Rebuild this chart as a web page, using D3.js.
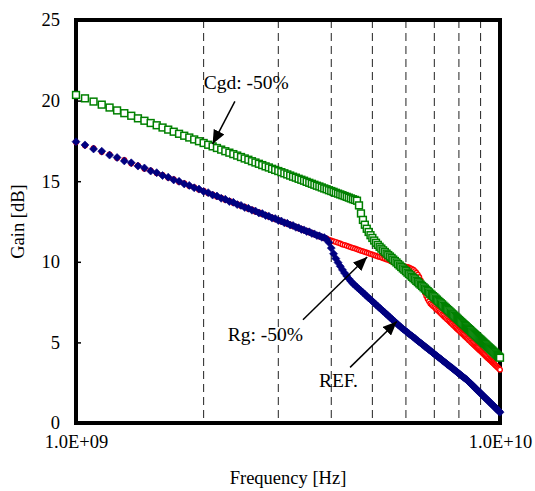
<!DOCTYPE html>
<html>
<head>
<meta charset="utf-8">
<script src="https://cdn.jsdelivr.net/npm/d3@7"></script>
<style>
  body { margin: 0; background: #fff; }
</style>
</head>
<body>
<div id="chart"></div>
<script>
// frequency sweep, 50 MHz steps from 1 GHz to 10 GHz
let freqGHz = d3.range(100, 1001, 5).map(d => d / 100)

let refGain = [17.45,17.25,17.00,16.86,16.62,16.47,16.26,16.14,15.94,15.82,15.63,15.53,15.35,15.25,15.08,14.99,14.83,14.74,14.59,14.51,
  14.36,14.29,14.14,14.08,13.94,13.88,13.74,13.69,13.55,13.50,13.37,13.32,13.20,13.15,13.03,12.99,12.87,12.83,12.71,12.68,
  12.56,12.53,12.42,12.39,12.28,12.25,12.14,12.11,12.01,11.98,11.88,11.86,11.76,11.73,11.63,11.61,11.52,11.50,11.40,
  11.20,10.85,10.50,10.20,9.95,9.72,9.50,9.30,9.12,8.95,8.80,
  8.65,8.54,8.42,8.31,8.20,8.09,7.98,7.87,7.76,7.66,7.55,7.45,7.34,7.24,7.14,7.04,6.94,6.85,6.75,6.65,6.56,6.46,6.37,6.28,6.19,6.09,6.01,
  5.92,5.84,5.77,5.69,5.61,5.54,5.46,5.39,5.32,5.25,5.17,5.10,5.03,4.96,4.89,4.82,4.75,4.68,4.62,4.55,4.48,4.42,4.35,4.28,4.22,
  4.15,4.09,4.03,3.97,3.90,3.84,3.78,3.72,3.65,3.60,3.54,3.47,3.42,3.36,3.30,3.24,3.18,3.12,3.07,3.01,2.95,2.90,2.84,2.79,2.73,2.68,
  2.61,2.55,2.48,2.42,2.35,2.29,2.22,2.16,2.09,2.03,1.97,1.91,1.85,1.78,1.72,1.66,1.60,1.54,1.48,1.42,1.36,1.30,1.24,1.18,1.12,
  1.07,1.01,0.95,0.89,0.84,0.78,0.72,0.67]

let rgGain = [17.42,17.21,17.05,16.81,16.66,16.44,16.31,16.10,15.98,15.78,15.67,15.49,15.39,15.21,15.12,14.95,14.87,14.70,14.63,14.47,
  14.40,14.25,14.18,14.04,13.98,13.84,13.78,13.65,13.59,13.46,13.41,13.28,13.24,13.11,13.07,12.95,12.91,12.79,12.75,12.64,
  12.60,12.49,12.46,12.35,12.32,12.21,12.18,12.07,12.05,11.94,11.92,11.82,11.80,11.69,11.67,11.57,11.56,11.46,11.44,
  11.37,11.32,11.27,11.23,11.18,11.13,11.08,11.04,10.99,10.95,10.90,10.86,10.82,10.78,10.73,10.69,10.65,10.61,10.57,10.53,
  10.49,10.45,10.41,10.37,10.33,10.30,10.26,10.22,10.19,10.15,10.12,
  10.07,10.02,9.97,9.93,9.89,9.85,9.82,9.79,9.76,9.73,9.70,9.67,9.64,9.60,9.56,9.50,9.42,9.32,9.20,9.05,
  8.85,8.60,8.32,8.08,7.88,7.70,7.55,7.42,
  7.34,7.26,7.19,7.11,7.03,6.96,6.88,6.81,6.73,6.66,6.58,6.51,6.44,6.37,6.29,6.22,6.15,6.08,6.01,5.94,
  5.87,5.80,5.74,5.67,5.60,5.53,5.47,5.40,5.34,5.27,5.21,5.14,5.08,5.01,4.95,4.89,4.83,4.76,4.70,4.64,
  4.58,4.52,4.46,4.40,4.34,4.28,4.22,4.16,4.10,4.04,3.99,3.93,3.87,3.81,3.76,3.70,3.64,3.59,3.53,3.48,3.42,3.37,3.31]

let cgdGain = [20.35,20.14,19.94,19.75,19.57,19.39,19.22,19.06,18.90,18.75,18.61,18.47,18.33,18.20,18.07,17.94,17.82,17.71,17.59,17.48,
  17.37,17.26,17.16,17.06,16.96,16.86,16.77,16.68,16.59,16.50,16.41,16.33,16.24,16.16,16.08,16.00,15.92,15.85,15.77,15.70,
  15.63,15.56,15.49,15.42,15.35,15.28,15.22,15.15,15.09,15.03,14.96,14.90,14.84,14.78,14.72,14.67,14.61,14.55,14.50,14.44,
  14.39,14.34,14.28,14.23,14.18,14.13,14.08,14.03,13.98,13.93,13.88,13.84,13.79,
  13.50,13.00,12.60,12.30,12.05,11.85,11.65,11.48,11.32,11.18,11.05,10.93,10.82,10.71,10.61,10.51,10.42,10.33,
  10.24,10.14,10.05,9.96,9.86,9.77,9.68,9.59,9.51,9.42,9.33,9.24,9.16,9.07,8.99,8.91,8.82,8.74,8.66,8.58,
  8.50,8.42,8.34,8.26,8.18,8.10,8.02,7.95,7.87,7.80,7.72,7.65,7.57,7.50,7.43,7.36,7.28,7.21,7.14,7.07,
  7.00,6.93,6.86,6.79,6.73,6.66,6.59,6.53,6.46,6.39,6.33,6.26,6.20,6.13,6.07,6.01,5.94,5.88,5.82,5.76,
  5.69,5.63,5.57,5.51,5.45,5.39,5.33,5.27,5.21,5.16,5.10,5.04,4.98,4.92,4.87,4.81,4.75,4.70,4.64,4.59,
  4.53,4.48,4.42,4.37,4.31,4.26,4.21,4.15,4.10,4.05]

let yTicks = [0, 5, 10, 15, 20, 25]
let xTicks = [1e9, 1e10]
let xTickLabels = ['1.0E+09', '1.0E+10']
let gridFreqs = [2e9, 3e9, 4e9, 5e9, 6e9, 7e9, 8e9, 9e9]

// label text, label point, arrow start, arrow tip (Hz, dB)
let notes = [
  {text: 'Cgd: -50%', anchor: 'start', lx: 2.0e9, ly: 20.7, x1: 2.37e9, y1: 19.95, x2: 2.10e9, y2: 17.3},
  {text: 'Rg: -50%',  anchor: 'end',   lx: 3.43e9, ly: 5.1, x1: 3.43e9, y1: 6.4, x2: 4.86e9, y2: 10.3},
  {text: 'REF.',      anchor: 'start', lx: 3.74e9, ly: 2.25, x1: 4.43e9, y1: 3.45, x2: 5.71e9, y2: 6.3}
]

let serif = '"Times New Roman", "Liberation Serif", Tinos, "DejaVu Serif", serif'
let width = 535, height = 491
let padL = 76, padR = 500, padT = 20, padB = 423

let svg = d3.select('#chart').append('svg')
  .attr('width', width).attr('height', height)
  .style('font-family', serif)

let x = d3.scaleLog().domain([1e9, 1e10]).range([padL, padR])
let y = d3.scaleLinear().domain([0, 25]).range([padB, padT])

// dashed vertical gridlines
svg.selectAll('.grid').data(gridFreqs).enter().append('line')
  .attr('x1', d => x(d)).attr('x2', d => x(d))
  .attr('y1', padT).attr('y2', padB)
  .attr('stroke', '#222').attr('stroke-width', 1)
  .attr('stroke-dasharray', '8,5')

// y axis with inward ticks
let yAxis = svg.append('g').attr('transform', `translate(${padL},0)`)
  .call(d3.axisLeft(y).tickValues(yTicks).tickSize(-5).tickPadding(16))
yAxis.select('.domain').remove()
yAxis.selectAll('line').attr('stroke', '#000').attr('stroke-width', 1.5)
yAxis.selectAll('text').attr('fill', '#000')
  .style('font-family', serif).style('font-size', '18.5px')

let xAxis = svg.append('g').attr('transform', `translate(0,${padB})`)
  .call(d3.axisBottom(x).tickValues(xTicks).tickSize(0).tickPadding(12)
    .tickFormat((d, i) => xTickLabels[i]))
xAxis.select('.domain').remove()
xAxis.selectAll('text').attr('fill', '#000')
  .style('font-family', serif).style('font-size', '18.5px')

// plot frame
svg.append('rect')
  .attr('x', padL).attr('y', padT)
  .attr('width', padR - padL).attr('height', padB - padT)
  .attr('fill', 'none').attr('stroke', '#000').attr('stroke-width', 4)

// axis titles
svg.append('text').attr('x', (padL + padR) / 2).attr('y', 484)
  .attr('text-anchor', 'middle')
  .style('font-family', serif).style('font-size', '18.5px')
  .text('Frequency [Hz]')
svg.append('text').attr('transform', `translate(24,${(padT + padB) / 2}) rotate(-90)`)
  .attr('text-anchor', 'middle')
  .style('font-family', serif).style('font-size', '18.5px')
  .text('Gain [dB]')

// series markers
let rgPts = freqGHz.map((f, i) => [f * 1e9, rgGain[i]])
let cgdPts = freqGHz.map((f, i) => [f * 1e9, cgdGain[i]])
let refPts = freqGHz.map((f, i) => [f * 1e9, refGain[i]])

svg.append('g').selectAll('circle').data(rgPts).enter().append('circle')
  .attr('cx', d => x(d[0])).attr('cy', d => y(d[1])).attr('r', 2.3)
  .attr('fill', '#fff').attr('stroke', '#ff0000').attr('stroke-width', 1.4)

svg.append('g').selectAll('rect').data(cgdPts).enter().append('rect')
  .attr('x', d => x(d[0]) - 3.4).attr('y', d => y(d[1]) - 3.4)
  .attr('width', 6.8).attr('height', 6.8)
  .attr('fill', '#fff').attr('stroke', '#008000').attr('stroke-width', 1.5)

svg.append('g').selectAll('path').data(refPts).enter().append('path')
  .attr('d', 'M0,-4L4,0L0,4L-4,0Z')
  .attr('transform', d => `translate(${x(d[0])},${y(d[1])})`)
  .attr('fill', '#000080').attr('stroke', '#000080').attr('stroke-width', 0.6)

// annotations with arrows
svg.append('defs').append('marker')
  .attr('id', 'head').attr('markerUnits', 'userSpaceOnUse')
  .attr('markerWidth', 16).attr('markerHeight', 12)
  .attr('refX', 14).attr('refY', 6).attr('orient', 'auto')
  .append('path').attr('d', 'M0,0L14,6L0,12Z').attr('fill', '#000')

let ann = svg.append('g')
notes.forEach(n => {
  ann.append('line')
    .attr('x1', x(n.x1)).attr('y1', y(n.y1))
    .attr('x2', x(n.x2)).attr('y2', y(n.y2))
    .attr('stroke', '#000').attr('stroke-width', 1.5)
    .attr('marker-end', 'url(#head)')
  ann.append('text').attr('x', x(n.lx)).attr('y', y(n.ly))
    .attr('text-anchor', n.anchor)
    .style('font-family', serif).style('font-size', '19.5px')
    .text(n.text)
})
</script>
</body>
</html>
